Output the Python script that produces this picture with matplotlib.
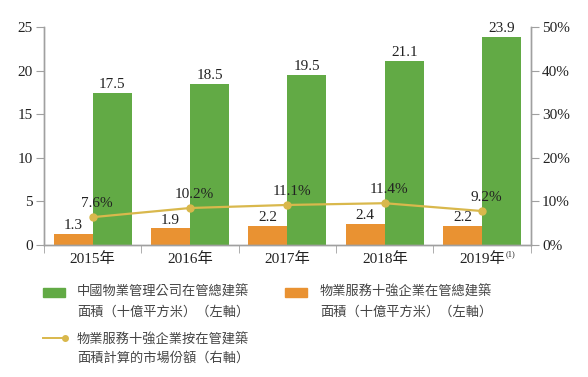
import matplotlib.pyplot as plt
from matplotlib.patches import Rectangle
from matplotlib.lines import Line2D
import numpy as np

plt.rcParams['font.family'] = ['Liberation Serif', 'Noto Sans CJK TC']

years = ['2015年', '2016年', '2017年', '2018年', '2019年']
china_gfa = [17.5, 18.5, 19.5, 21.1, 23.9]
top10_gfa = [1.3, 1.9, 2.2, 2.4, 2.2]
share_labels = ['7.6%', '10.2%', '11.1%', '11.4%', '9.2%']
# 圖上點的實際位置 (右軸, %)
share_plot = [6.4, 8.5, 9.2, 9.6, 7.8]

green = '#62aa45'
orange = '#e99232'
gold = '#d9b84c'
axis_gray = '#a0a0a0'
txt = '#222222'

fig = plt.figure(figsize=(5.88, 3.77), dpi=100)
ax = fig.add_axes([0.0748, 0.350, 0.828, 0.578])
ax2 = ax.twinx()

x = np.arange(len(years))
w = 0.4
ax.bar(x - w / 2, top10_gfa, w, color=orange, zorder=2)
ax.bar(x + w / 2, china_gfa, w, color=green, zorder=2)

for i in range(len(x)):
    ax.text(x[i] + w / 2, china_gfa[i] + 0.2, f'{china_gfa[i]:.1f}', ha='center', va='bottom',
            fontsize=11, color=txt)
    ax.text(x[i] - w / 2, top10_gfa[i] + 0.2, f'{top10_gfa[i]:.1f}', ha='center', va='bottom',
            fontsize=11, color=txt)

ax2.plot(x, share_plot, color=gold, lw=1.6, marker='o', ms=5, zorder=3)
for i in range(len(x)):
    ax2.annotate(share_labels[i], (x[i], share_plot[i]), xytext=(3, 5), textcoords='offset points',
                 ha='center', va='bottom', fontsize=11, color=txt)

ax.set_xlim(-0.5, 4.5)
ax.set_ylim(0, 25)
ax2.set_ylim(0, 50)
ax.set_yticks([0, 5, 10, 15, 20, 25])
ax2.set_yticks([0, 10, 20, 30, 40, 50])
ax2.set_yticklabels([f'{v}%' for v in range(0, 60, 10)])

ax.set_xticks(x)
ax.set_xticklabels(years)
ax.set_xticks(np.arange(-0.5, 5.0, 1.0), minor=True)
ax.tick_params(axis='x', which='major', length=0, pad=5, labelsize=11, labelcolor=txt)
ax.tick_params(axis='x', which='minor', length=6, color=axis_gray, direction='out')
ax.tick_params(axis='y', length=6, color=axis_gray, labelsize=11, labelcolor=txt, pad=2)
ax2.tick_params(axis='y', length=6, color=axis_gray, labelsize=11, labelcolor=txt, pad=2)

# 2019年 註(1)
ax.annotate('(1)', xy=(x[-1], 0), xycoords=('data', 'axes fraction'), xytext=(17, -4),
            textcoords='offset points', ha='left', va='top', fontsize=6, color=txt)

for a in (ax, ax2):
    a.spines['top'].set_visible(False)
    for s in ('left', 'right', 'bottom'):
        a.spines[s].set_color(axis_gray)
        a.spines[s].set_linewidth(1.0)

# 圖例
leg_color = '#444444'
fig.add_artist(Rectangle((43 / 588, 1 - 297 / 377), 22 / 588, 9 / 377, transform=fig.transFigure,
                         color=green))
fig.text(77 / 588, 1 - 302 / 377, '中國物業管理公司在管總建築\n面積（十億平方米）（左軸）',
         va='center', ha='left', fontsize=9.5, color=leg_color, linespacing=1.7)
fig.add_artist(Rectangle((285 / 588, 1 - 297 / 377), 22 / 588, 9 / 377, transform=fig.transFigure,
                         color=orange))
fig.text(320 / 588, 1 - 302 / 377, '物業服務十強企業在管總建築\n面積（十億平方米）（左軸）',
         va='center', ha='left', fontsize=9.5, color=leg_color, linespacing=1.7)
fig.add_artist(Line2D([43 / 588, 65 / 588], [1 - 338 / 377, 1 - 338 / 377], transform=fig.transFigure,
                      color=gold, lw=1.4, marker='o', ms=4, markevery=[1], markerfacecolor=gold))
fig.text(77 / 588, 1 - 349 / 377, '物業服務十強企業按在管建築\n面積計算的市場份額（右軸）',
         va='center', ha='left', fontsize=9.5, color=leg_color, linespacing=1.6)

fig.savefig('out.png', dpi=100)
